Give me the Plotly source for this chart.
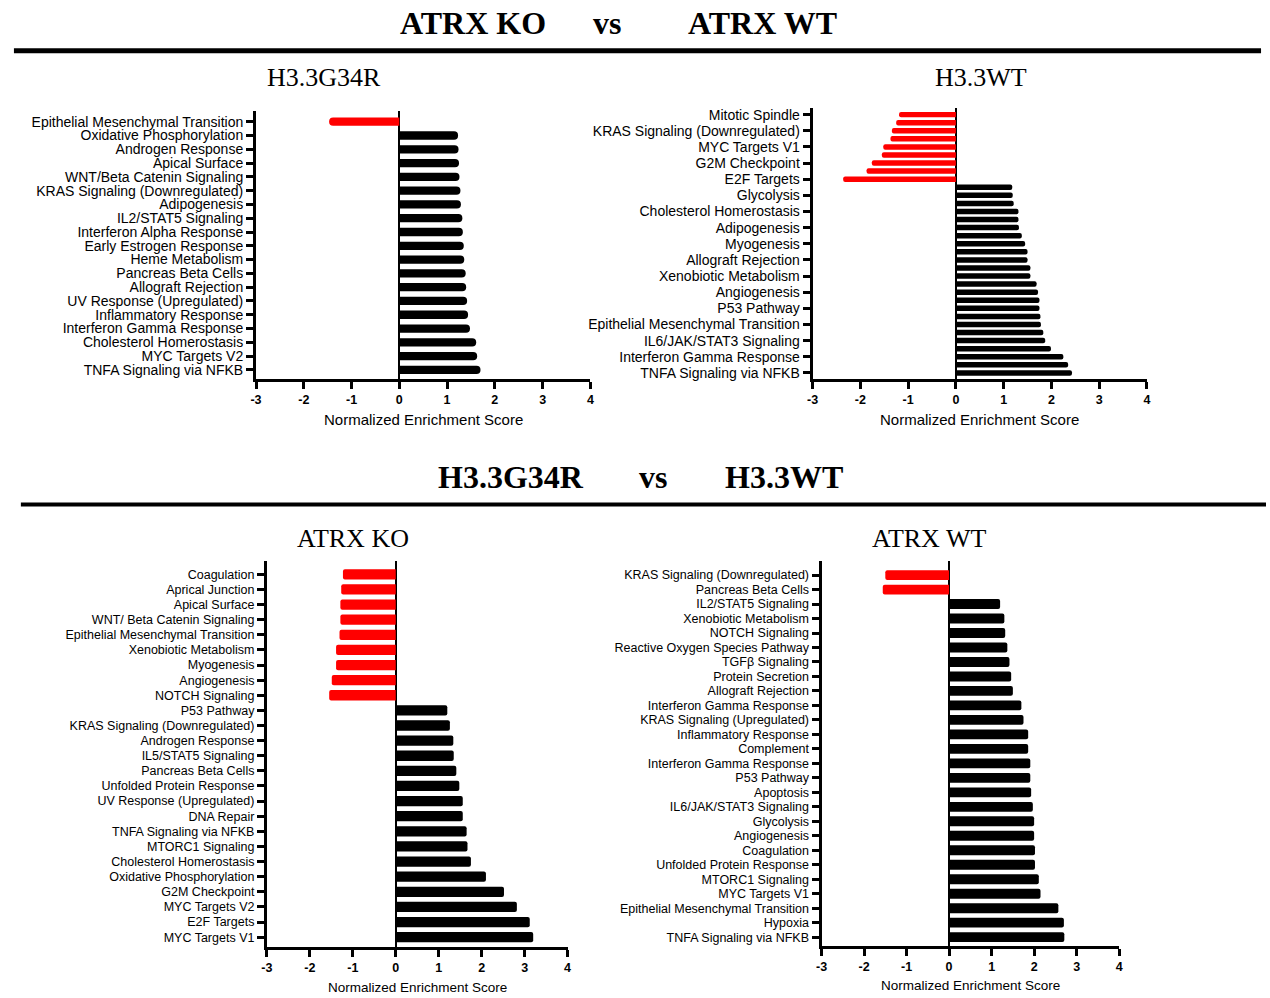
import plotly.graph_objects as go

W, H = 1270, 998

# ---------------- data ----------------
# Top-left: H3.3G34R (ATRX KO vs ATRX WT)
g34r_labels = ["Epithelial Mesenchymal Transition", "Oxidative Phosphorylation", "Androgen Response",
               "Apical Surface", "WNT/Beta Catenin Signaling", "KRAS Signaling (Downregulated)",
               "Adipogenesis", "IL2/STAT5 Signaling", "Interferon Alpha Response",
               "Early Estrogen Response", "Heme Metabolism", "Pancreas Beta Cells",
               "Allograft Rejection", "UV Response (Upregulated)", "Inflammatory Response",
               "Interferon Gamma Response", "Cholesterol Homerostasis", "MYC Targets V2",
               "TNFA Signaling via NFKB"]
g34r_nes = [-1.47, 1.23, 1.24, 1.25, 1.26, 1.28, 1.29, 1.32, 1.33, 1.35, 1.36, 1.39,
            1.40, 1.42, 1.44, 1.48, 1.61, 1.63, 1.70]

# Top-right: H3.3WT (ATRX KO vs ATRX WT) - 33 bars, every other one labelled
h33wt_labels = ["Mitotic Spindle", "KRAS Signaling (Downregulated)", "MYC Targets V1",
                "G2M Checkpoint", "E2F Targets", "Glycolysis", "Cholesterol Homerostasis",
                "Adipogenesis", "Myogenesis", "Allograft Rejection", "Xenobiotic Metabolism",
                "Angiogenesis", "P53 Pathway", "Epithelial Mesenchymal Transition",
                "IL6/JAK/STAT3 Signaling", "Interferon Gamma Response", "TNFA Signaling via NFKB"]
h33wt_nes = [-1.19, -1.25, -1.34, -1.37, -1.52, -1.55, -1.76, -1.87, -2.36,
             1.18, 1.19, 1.21, 1.31, 1.31, 1.32, 1.38, 1.45, 1.50, 1.50, 1.56, 1.56,
             1.69, 1.72, 1.75, 1.75, 1.77, 1.78, 1.83, 1.87, 1.99, 2.25, 2.35, 2.43]

# Bottom-left: ATRX KO (H3.3G34R vs H3.3WT)
atrxko_labels = ["Coagulation", "Aprical Junction", "Apical Surface", "WNT/ Beta Catenin Signaling",
                 "Epithelial Mesenchymal Transition", "Xenobiotic Metabolism", "Myogenesis",
                 "Angiogenesis", "NOTCH Signaling", "P53 Pathway", "KRAS Signaling (Downregulated)",
                 "Androgen Response", "IL5/STAT5 Signaling", "Pancreas Beta Cells",
                 "Unfolded Protein Response", "UV Response (Upregulated)", "DNA Repair",
                 "TNFA Signaling via NFKB", "MTORC1 Signaling", "Cholesterol Homerostasis",
                 "Oxidative Phosphorylation", "G2M Checkpoint", "MYC Targets V2", "E2F Targets",
                 "MYC Targets V1"]
atrxko_nes = [-1.23, -1.27, -1.29, -1.29, -1.31, -1.39, -1.39, -1.49, -1.55,
              1.20, 1.26, 1.34, 1.35, 1.41, 1.48, 1.56, 1.56, 1.65, 1.67, 1.75,
              2.10, 2.52, 2.82, 3.12, 3.20]

# Bottom-right: ATRX WT (H3.3G34R vs H3.3WT)
atrxwt_labels = ["KRAS Signaling (Downregulated)", "Pancreas Beta Cells", "IL2/STAT5 Signaling",
                 "Xenobiotic Metabolism", "NOTCH Signaling", "Reactive Oxygen Species Pathway",
                 "TGFβ Signaling", "Protein Secretion", "Allograft Rejection",
                 "Interferon Gamma Response", "KRAS Signaling (Upregulated)", "Inflammatory Response",
                 "Complement", "Interferon Gamma Response", "P53 Pathway", "Apoptosis",
                 "IL6/JAK/STAT3 Signaling", "Glycolysis", "Angiogenesis", "Coagulation",
                 "Unfolded Protein Response", "MTORC1 Signaling", "MYC Targets V1",
                 "Epithelial Mesenchymal Transition", "Hypoxia", "TNFA Signaling via NFKB"]
atrxwt_nes = [-1.50, -1.56, 1.20, 1.30, 1.32, 1.37, 1.42, 1.46, 1.50, 1.70, 1.75, 1.86,
              1.86, 1.91, 1.91, 1.93, 1.97, 2.00, 2.00, 2.02, 2.02, 2.11, 2.15, 2.57,
              2.70, 2.71]

x_ticks = [-3, -2, -1, 0, 1, 2, 3, 4]
x_ticktext = ["-3", "-2", "-1", "0", "1", "2", "3", "4"]
axis_title = "Normalized Enrichment Score"

# ---------------- layout helpers ----------------
SANS = "Liberation Sans, Arial, sans-serif"
SERIF = "Liberation Serif, Times New Roman, serif"

panels = [
    dict(vals=g34r_nes, labels=g34r_labels, step=1, box=(252, 589, 110, 379), pt=0.8, pb=0.65,
         fs=14, bw=0.6, cr="50%", tfs=15, ty=420),
    dict(vals=h33wt_nes, labels=h33wt_labels, step=2, box=(813, 1150, 107, 379), pt=0.86, pb=0.74,
         fs=14, bw=0.68, cr="50%", tfs=15, ty=420),
    dict(vals=atrxko_nes, labels=atrxko_labels, step=1, box=(263, 566, 562, 949), pt=0.86, pb=0.66,
         fs=12.5, bw=0.68, cr=2, tfs=13.5, ty=989),
    dict(vals=atrxwt_nes, labels=atrxwt_labels, step=1, box=(822, 1122, 562, 948), pt=0.95, pb=0.62,
         fs=12.5, bw=0.68, cr=2, tfs=13.5, ty=987),
]

fig = go.Figure()
layout = dict(width=W, height=H, margin=dict(l=0, r=0, t=0, b=0),
              paper_bgcolor="white", plot_bgcolor="white", showlegend=False,
              annotations=[], shapes=[])

for i, p in enumerate(panels, start=1):
    n = len(p["vals"])
    pos = list(range(n))
    colors = ["#FF0000" if v < 0 else "#000000" for v in p["vals"]]
    fig.add_trace(go.Bar(x=p["vals"], y=pos, orientation="h", width=p["bw"],
                         marker=dict(color=colors, line=dict(width=0), cornerradius=p["cr"]),
                         xaxis=f"x{i}", yaxis=f"y{i}", hoverinfo="x+y"))
    x0, x1, y0, y1 = p["box"]
    tickvals = pos[::p["step"]]
    layout[f"xaxis{i}"] = dict(
        domain=[x0 / W, x1 / W], anchor=f"y{i}", range=[x_ticks[0], x_ticks[-1]],
        tickmode="array", tickvals=x_ticks, ticktext=x_ticktext,
        showline=True, linecolor="black", linewidth=3, ticks="outside", ticklen=7,
        tickwidth=2.5, tickcolor="black", showgrid=False,
        zeroline=True, zerolinecolor="black", zerolinewidth=2,
        tickfont=dict(family=SANS, size=12.5, color="black", weight="bold"))
    layout[f"yaxis{i}"] = dict(
        domain=[1 - y1 / H, 1 - y0 / H], anchor=f"x{i}",
        range=[n - 1 + p["pb"], -p["pt"]], tickmode="array", tickvals=tickvals,
        ticktext=p["labels"], showline=True, linecolor="black", linewidth=3,
        ticks="outside", ticklen=7, tickwidth=2.5, tickcolor="black",
        showgrid=False, zeroline=False, ticklabelstandoff=0,
        tickfont=dict(family=SANS, size=p["fs"], color="black"))
    layout["annotations"].append(dict(
        text=axis_title, x=(x0 + x1) / 2 / W, y=1 - p["ty"] / H, xref="paper", yref="paper",
        xanchor="center", yanchor="middle", showarrow=False,
        font=dict(family=SANS, size=p["tfs"], color="black")))

def ann(text, xpx, ypx, size, bold=False):
    layout["annotations"].append(dict(
        text=f"<b>{text}</b>" if bold else text, x=xpx / W, y=1 - ypx / H,
        xref="paper", yref="paper", xanchor="center", yanchor="middle", showarrow=False,
        font=dict(family=SERIF, size=size, color="black")))

# Headers
ann("ATRX KO", 471, 22, 32, True)
ann("vs", 606, 22, 32, True)
ann("ATRX WT", 763, 22, 32, True)
ann("H3.3G34R", 321, 77, 26)
ann("H3.3WT", 983, 77, 26)
ann("H3.3G34R", 509, 477, 32, True)
ann("vs", 652, 477, 32, True)
ann("H3.3WT", 784, 477, 32, True)
ann("ATRX KO", 350, 539, 26)
ann("ATRX WT", 930, 539, 26)

for (xa, xb, yp, lw) in [(8, 1265, 50, 5), (15, 1270, 505, 4)]:
    layout["shapes"].append(dict(type="line", xref="paper", yref="paper",
                                 x0=xa / W, x1=xb / W, y0=1 - yp / H, y1=1 - yp / H,
                                 line=dict(color="black", width=lw)))

fig.update_layout(**layout)
fig.write_html("out.html")
